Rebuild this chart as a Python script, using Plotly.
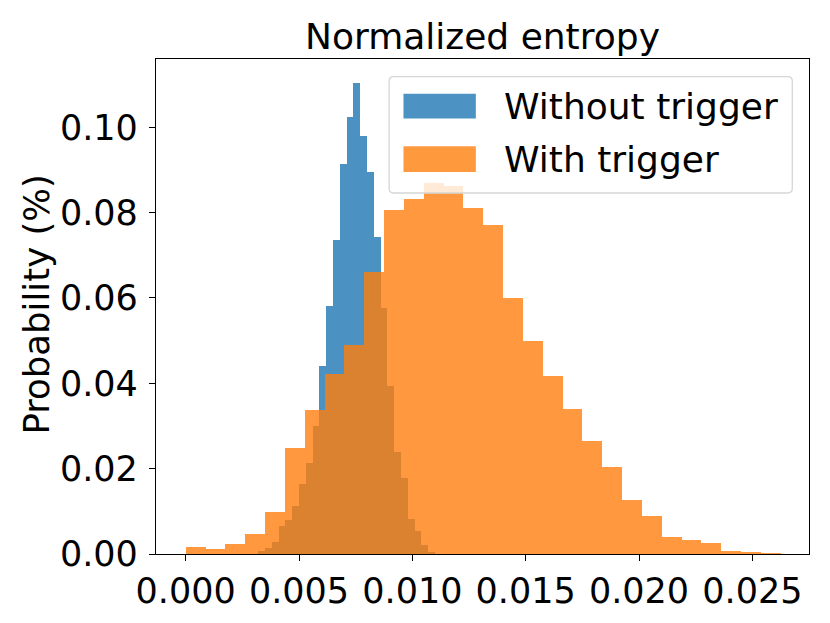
import plotly.graph_objects as go

# histogram bin edges and probabilities
without_edges = [0.0032, 0.0035, 0.0038, 0.0041, 0.0044, 0.0047, 0.0050, 0.0053, 0.0056,
                 0.0059, 0.0062, 0.0065, 0.0068, 0.0071, 0.0074, 0.0077, 0.0080, 0.0083,
                 0.0086, 0.0089, 0.0092, 0.0095, 0.0098, 0.0101, 0.0104, 0.0107, 0.0110]
without_prob = [0.0007, 0.0013, 0.0028, 0.0065, 0.0079, 0.0112, 0.0163, 0.0214, 0.0299,
                0.0440, 0.0582, 0.0735, 0.0914, 0.1023, 0.1104, 0.0980, 0.0896, 0.0742,
                0.0576, 0.0393, 0.0238, 0.0177, 0.0081, 0.0054, 0.0020, 0.0004]

with_edges = [0.0, 0.000875, 0.00175, 0.002625, 0.0035, 0.004375, 0.00525, 0.006125,
              0.007, 0.007875, 0.00875, 0.009625, 0.0105, 0.011375, 0.01225, 0.013125,
              0.014, 0.014875, 0.01575, 0.016625, 0.0175, 0.018375, 0.01925, 0.020125,
              0.021, 0.021875, 0.02275, 0.023625, 0.0245, 0.025375, 0.02625]
with_prob = [0.0016, 0.0011, 0.0023, 0.0046, 0.0098, 0.0248, 0.0337, 0.0422, 0.0489,
             0.0660, 0.0807, 0.0831, 0.0869, 0.0863, 0.0810, 0.0771, 0.0601, 0.0500,
             0.0417, 0.0340, 0.0264, 0.0203, 0.0126, 0.0088, 0.0039, 0.0032, 0.0025,
             0.0008, 0.0003, 0.0001]

names = ['Without trigger', 'With trigger']
colors = ['#1f77b4', '#ff7f0e']
x_ticks = [0.0, 0.005, 0.010, 0.015, 0.020, 0.025]
y_ticks = [0.0, 0.02, 0.04, 0.06, 0.08, 0.10]

font = 'DejaVu Sans, Verdana, sans-serif'
fs = 35


def bars(edges, probs, name, color):
    centers = [(edges[i] + edges[i + 1]) / 2 for i in range(len(probs))]
    widths = [edges[i + 1] - edges[i] for i in range(len(probs))]
    return go.Bar(x=centers, y=probs, width=widths, name=name,
                  marker=dict(color=color, line=dict(width=0)),
                  opacity=0.8, showlegend=False)


fig = go.Figure()
fig.add_trace(bars(without_edges, without_prob, names[0], colors[0]))
fig.add_trace(bars(with_edges, with_prob, names[1], colors[1]))

# page body has an 8px margin, so the figure is a bit smaller than the window
fig.update_layout(
    width=822, height=615,
    margin=dict(l=148, r=21, t=51, b=69),
    paper_bgcolor='white', plot_bgcolor='white',
    barmode='overlay', bargap=0,
    font=dict(family=font, size=fs, color='black'),
    title=dict(text='Normalized entropy', x=0.5, xref='paper', xanchor='center',
               y=1, yref='paper', yanchor='bottom', pad=dict(b=10),
               font=dict(size=36, color='black')),
)
fig.update_xaxes(range=[-0.00131, 0.0275], tickvals=x_ticks, tickformat='.3f',
                 ticks='outside', ticklen=6, tickwidth=1.3, tickcolor='black',
                 showline=True, linecolor='black', linewidth=1.3, mirror=True,
                 showgrid=False, zeroline=False, automargin=False)
fig.update_yaxes(range=[0, 0.116], tickvals=y_ticks, tickformat='.2f',
                 ticks='outside', ticklen=6, tickwidth=1.3, tickcolor='black',
                 showline=True, linecolor='black', linewidth=1.3, mirror=True,
                 showgrid=False, zeroline=False, ticklabelstandoff=4, automargin=False)

# y label as a rotated annotation so it can be placed exactly
fig.add_annotation(text='Probability (%)', xref='paper', yref='paper', x=-0.183, y=0.503,
                   xanchor='center', yanchor='middle', textangle=-90, showarrow=False,
                   font=dict(size=35.5, color='black'))

# legend box drawn by hand to get the wide matplotlib patches
x0, x1, y0, y1 = 0.357, 0.9744, 0.7293, 0.9644
rx, ry = 0.007, 0.009
path = (f'M{x0 + rx},{y0} L{x1 - rx},{y0} Q{x1},{y0} {x1},{y0 + ry} '
        f'L{x1},{y1 - ry} Q{x1},{y1} {x1 - rx},{y1} L{x0 + rx},{y1} '
        f'Q{x0},{y1} {x0},{y1 - ry} L{x0},{y0 + ry} Q{x0},{y0} {x0 + rx},{y0} Z')
fig.add_shape(type='path', path=path, xref='paper', yref='paper',
              fillcolor='rgba(255,255,255,0.8)', line=dict(color='#d6d6d6', width=1.3),
              layer='above')
patch_rows = [(0.8796, 0.930), (0.7717, 0.8236)]
for (pb, pt), name, color in zip(patch_rows, names, colors):
    fig.add_shape(type='rect', xref='paper', yref='paper', x0=0.379, x1=0.4898,
                  y0=pb, y1=pt, fillcolor=color, opacity=0.8, line=dict(width=0),
                  layer='above')
    fig.add_annotation(text=name, xref='paper', yref='paper', x=0.530,
                       y=(pb + pt) / 2, xanchor='left', yanchor='middle',
                       showarrow=False, font=dict(size=36, color='black'))

fig.write_html('out.html')
